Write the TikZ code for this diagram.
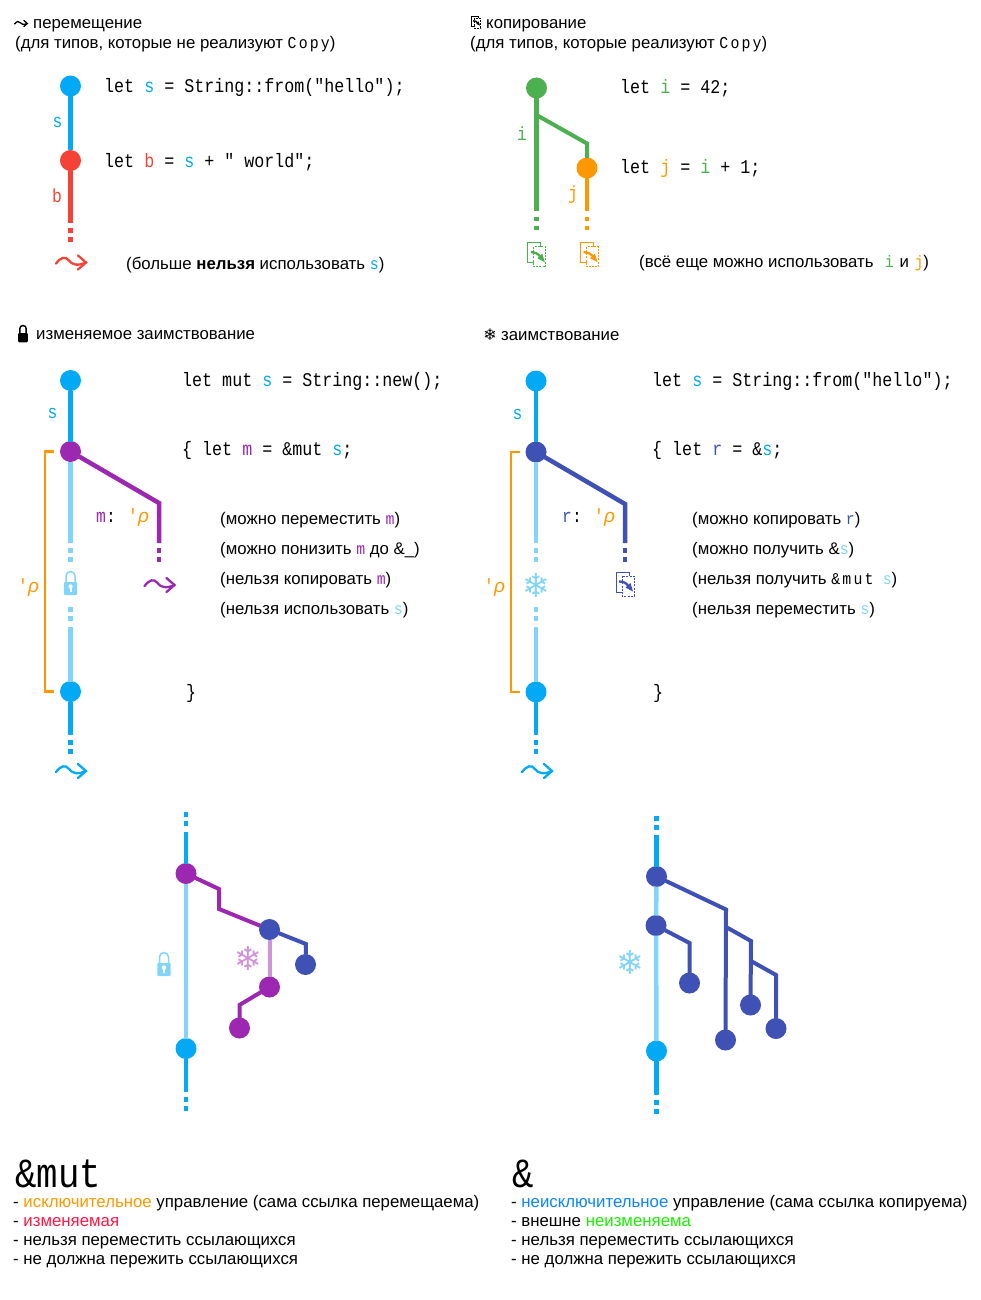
\documentclass[tikz,border=0pt]{standalone}
\usepackage{fontspec}
\usepackage{xcolor}
\usetikzlibrary{positioning,calc}
\setmainfont{Liberation Sans}
\newfontfamily\codefont[FakeStretch=0.86]{Liberation Mono}
\newfontfamily\smallcodefont[FakeStretch=0.9,LetterSpace=13]{Liberation Mono}
\newfontfamily\symbfont{DejaVu Sans}
\definecolor{RustBlue}{HTML}{03A9F4}
\definecolor{RustPale}{HTML}{81D4FA}
\definecolor{RustPurple}{HTML}{9C27B0}
\definecolor{RustIndigo}{HTML}{3F51B5}
\definecolor{RustGreen}{HTML}{4CAF50}
\definecolor{RustOrange}{HTML}{FF9800}
\definecolor{RustRed}{HTML}{F44336}
\definecolor{RustThistle}{HTML}{CE93D8}
\newcommand{\cc}[2]{\textcolor{#1}{#2}}
\newcommand{\smallcode}[1]{{\smallcodefont\fontsize{16.5}{16.5}\selectfont #1}}
\tikzset{ownerdot/.style={circle, fill=#1, minimum size=21pt, inner sep=0pt, outer sep=-.5pt}, ownerline/.style={draw=#1, line width=4.5pt}, branchline/.style={draw=#1, line width=4pt, line join=miter}, ownertail/.style={draw=#1, line width=4.5pt, dash pattern=on 4.5pt off 4.5pt}, codeline/.style={anchor=base west, inner sep=0pt, font=\codefont\fontsize{19.4}{19.4}\selectfont}, sanstext/.style={anchor=base west, inner sep=0pt, font=\fontsize{16.8}{16.8}\selectfont}, vartext/.style={anchor=base, inner sep=0pt, text=#1, font=\codefont\fontsize{19}{19}\selectfont}, lifetext/.style={anchor=base west, inner sep=0pt, text=RustOrange, font=\fontsize{19}{19}\selectfont}, bigcode/.style={anchor=base west, inner sep=0pt, font=\codefont\fontsize{41.5}{41.5}\selectfont}, movemark/.style={draw=#1, line width=2.3pt}, copymark/.style={line width=.9pt}, flakemark/.style={inner sep=0pt, text=#1, font=\symbfont\fontsize{33}{33}\selectfont}, pics/waveicon/.style={code={
  \draw[pic actions, line cap=round] (-15,1) .. controls (-10,-5) and (-6,-7) .. (-2,-2) .. controls (1,2) and (6,4) .. (15,0);
  \draw[pic actions, line cap=round] (7,-7) -- (15,0) -- (7,7);}}, pics/copyicon/.style={code={
  \draw[pic actions, #1] (4,-8) -- (4,-12) -- (-9,-12) -- (-9,8) -- (-3,8);
  \draw[pic actions, #1, dash pattern=on 2pt off 1.2pt] (-3,-8) rectangle (9,12);
  \draw[pic actions, #1, line width=1.6\pgflinewidth] (-6,-2.5) .. controls (-1,-2.5) and (1,-1) .. (4,2.5);
  \fill[#1] (8,7.5) -- (0.5,3.5) -- (5.5,-1) -- cycle;}}, pics/lockbody/.style={code={
  \fill[#1, rounded corners=1pt] (-6.7,-2) rectangle (6.7,11);
  \draw[#1, line width=1.5pt] (-4.5,-2) -- (-4.5,-8) arc[start angle=180, end angle=360, radius=4.5] -- (4.5,-2);}}, pics/lockicon/.style={code={
  \pic {lockbody=#1};
  \fill[white] (0,2.5) circle[radius=2.2];
  \fill[white] (-1,2.5) rectangle (1,7.5);}}}
\begin{document}
\begin{tikzpicture}[x=1pt,y=-1pt]
\useasboundingbox (0,0) rectangle (980,1300);
% move
\pic[movemark=black, line width=1.3pt, scale=.42] (movearrow) at (21,23.5) {waveicon};
\node[sanstext] (movehead) at (33,29) {перемещение};
\node[sanstext] (movesub) at (15,49) {(для типов, которые не реализуют \smallcode{Copy})};
\node[ownerdot=RustBlue] (ms) at (70.5,86) {};
\node[ownerdot=RustRed] (mb) at (70.5,160.5) {};
\coordinate (mbend) at (70.5,223);
\coordinate (mbtail) at (70.5,242);
\draw[ownerline=RustBlue] (ms) -- (mb);
\draw[ownerline=RustRed] (mb) -- (mbend);
\draw[ownertail=RustRed] (70.5,228) -- (mbtail);
\node[vartext=RustBlue] (mslabel) at (57.5,128) {s};
\node[vartext=RustRed] (mblabel) at (57,203) {b};
\pic[movemark=RustRed] (mbarrow) at (71,262.5) {waveicon};
\node[codeline] (mscode) at (104,92.5) {let \cc{RustBlue}{s} = String::from("hello");};
\node[codeline] (mbcode) at (104,167.5) {let \cc{RustRed}{b} = \cc{RustBlue}{s} + " world";};
\node[sanstext] (mnote) at (126,269.5) {(больше \textbf{нельзя} использовать \cc{RustBlue}{\smallcode{s}})};
% copy
\pic[line width=.55pt, scale=.5] (copyhead) at (476,22) {copyicon=black};
\node[sanstext] (copytitle) at (486,29) {копирование};
\node[sanstext] (copysub) at (470,49) {(для типов, которые реализуют \smallcode{Copy})};
\node[ownerdot=RustGreen] (ci) at (536.5,88) {};
\node[ownerdot=RustOrange] (cj) at (587,168) {};
\coordinate (cifork) at (536.5,115);
\coordinate (cibend) at (587,143.5);
\coordinate (ciend) at (536.5,211);
\coordinate (citail) at (536.5,231);
\coordinate (cjend) at (587,211);
\coordinate (cjtail) at (587,231);
\draw[ownerline=RustGreen] (ci) -- (ciend);
\draw[branchline=RustGreen] (cifork) -- (cibend) -- (cj);
\draw[ownerline=RustOrange] (cj) -- (cjend);
\draw[ownertail=RustGreen] (536.5,216.5) -- (citail);
\draw[ownertail=RustOrange] (587,216.5) -- (cjtail);
\node[vartext=RustGreen] (cilabel) at (522,141) {i};
\node[vartext=RustOrange] (cjlabel) at (573,200) {j};
\pic[copymark] (cicopy) at (536.8,254.7) {copyicon=RustGreen};
\pic[copymark] (cjcopy) at (589.5,254.7) {copyicon=RustOrange};
\node[codeline] (cicode) at (620,94) {let \cc{RustGreen}{i} = 42;};
\node[codeline] (cjcode) at (620,173.5) {let \cc{RustOrange}{j} = \cc{RustGreen}{i} + 1;};
\node[sanstext] (cnote) at (639,267.5) {(всё еще можно использовать \ \kern2pt\cc{RustGreen}{\smallcode{i}}\kern1pt\ и \kern1pt\cc{RustOrange}{\smallcode{j}})};
% mutable borrow
\pic[scale=.72] (muthead) at (23,334.5) {lockbody=black};
\node[sanstext] (muttitle) at (36,339.5) {изменяемое заимствование};
\node[ownerdot=RustBlue] (bs) at (70.5,380.5) {};
\node[ownerdot=RustPurple] (bm) at (70.5,451.5) {};
\node[ownerdot=RustBlue] (be) at (70.5,691.5) {};
\coordinate (bpaleend) at (70.5,543);
\coordinate (bpaletail) at (70.5,562);
\coordinate (bpalehead) at (70.5,607);
\coordinate (bpalerest) at (70.5,627);
\coordinate (bmbend) at (159,503);
\coordinate (bmend) at (159,543);
\coordinate (bmtail) at (159,562);
\coordinate (beend) at (70.5,735);
\coordinate (betail) at (70.5,754);
\coordinate (blifetop) at (54,451.5);
\coordinate (blifebot) at (54,691.5);
\draw[ownerline=RustBlue] (bs) -- (bm);
\draw[ownerline=RustPale] (bm) -- (bpaleend);
\draw[ownertail=RustPale] (70.5,548) -- (bpaletail);
\draw[ownertail=RustPale] (bpalehead) -- (70.5,622);
\draw[ownerline=RustPale] (bpalerest) -- (be);
\draw[ownerline=RustBlue] (be) -- (beend);
\draw[ownertail=RustBlue] (70.5,740) -- (betail);
\draw[ownerline=RustPurple] (bm) -- (bmbend) -- (bmend);
\draw[ownertail=RustPurple] (159,548) -- (bmtail);
\draw[draw=RustOrange, line width=2.4pt] (blifetop) -| (45,571) |- (blifebot);
\pic (block) at (70.5,584) {lockicon=RustPale};
\node[vartext=RustBlue] (bslabel) at (52.5,418) {s};
\node[lifetext] (blife) at (18,592) {{\codefont '}\textit{ρ}};
\node[anchor=base west, inner sep=0pt] (bmlabel) at (96,522) {\codefont\fontsize{19}{19}\selectfont\cc{RustPurple}{m}:};
\node[lifetext] (bmlife) at (128,522) {{\codefont '}\textit{ρ}};
\pic[movemark=RustPurple] (bmarrow) at (159.5,585) {waveicon};
\pic[movemark=RustBlue] (bearrow) at (71,771) {waveicon};
\node[codeline] (bscode) at (182,386.5) {let mut \cc{RustBlue}{s} = String::new();};
\node[codeline] (bmcode) at (182,455.5) {\{ let \cc{RustPurple}{m} = \&mut \cc{RustBlue}{s};};
\node[codeline] (becode) at (176,698.5) {\ \}};
\node[sanstext] (bnote1) at (220,524) {(можно переместить \cc{RustPurple}{\smallcode{m}})};
\node[sanstext, below=30pt of bnote1.base west, anchor=base west] (bnote2) {(можно понизить \cc{RustPurple}{\smallcode{m}} до \&\_)};
\node[sanstext, below=30pt of bnote2.base west, anchor=base west] (bnote3) {(нельзя копировать \cc{RustPurple}{\smallcode{m}})};
\node[sanstext, below=30pt of bnote3.base west, anchor=base west] (bnote4) {(нельзя использовать \cc{RustPale}{\smallcode{s}})};
% shared borrow
\node[flakemark=black, font=\symbfont\fontsize{16}{16}\selectfont] (shflake) at (490,335) {❄};
\node[sanstext] (shhead) at (501,340.5) {заимствование};
\node[ownerdot=RustBlue] (ss) at (536,381) {};
\node[ownerdot=RustIndigo] (sr) at (536,452) {};
\node[ownerdot=RustBlue] (se) at (536,692) {};
\coordinate (spaleend) at (536,543);
\coordinate (spaletail) at (536,562);
\coordinate (spalehead) at (536,607);
\coordinate (spalerest) at (536,627);
\coordinate (srbend) at (625,504);
\coordinate (srend) at (625,543);
\coordinate (srtail) at (625,562);
\coordinate (seend) at (536,735);
\coordinate (setail) at (536,754);
\coordinate (slifetop) at (520,452);
\coordinate (slifebot) at (520,692);
\draw[ownerline=RustBlue] (ss) -- (sr);
\draw[ownerline=RustPale] (sr) -- (spaleend);
\draw[ownertail=RustPale] (536,548) -- (spaletail);
\draw[ownertail=RustPale] (spalehead) -- (536,622);
\draw[ownerline=RustPale] (spalerest) -- (se);
\draw[ownerline=RustBlue] (se) -- (seend);
\draw[ownertail=RustBlue] (536,740) -- (setail);
\draw[ownerline=RustIndigo] (sr) -- (srbend) -- (srend);
\draw[ownertail=RustIndigo] (625,548) -- (srtail);
\draw[draw=RustOrange, line width=2.4pt] (slifetop) -| (511,572) |- (slifebot);
\node[flakemark=RustPale] (sflake) at (536,585) {❄};
\pic[copymark] (srcopy) at (625,584) {copyicon=RustIndigo};
\node[vartext=RustBlue] (sslabel) at (517.5,419) {s};
\node[lifetext] (slife) at (484,592) {{\codefont '}\textit{ρ}};
\node[anchor=base west, inner sep=0pt] (srlabel) at (562,522) {\codefont\fontsize{19}{19}\selectfont\cc{RustIndigo}{r}:};
\node[lifetext] (srlife) at (594,522) {{\codefont '}\textit{ρ}};
\pic[movemark=RustBlue] (searrow) at (537,771) {waveicon};
\node[codeline] (sscode) at (652,386.5) {let \cc{RustBlue}{s} = String::from("hello");};
\node[codeline] (srcode) at (652,455.5) {\{ let \cc{RustIndigo}{r} = \&\cc{RustBlue}{s};};
\node[codeline] (secode) at (643,698.5) {\ \}};
\node[sanstext] (snote1) at (692,524) {(можно копировать \cc{RustIndigo}{\smallcode{r}})};
\node[sanstext, below=30pt of snote1.base west, anchor=base west] (snote2) {(можно получить \&\cc{RustPale}{\smallcode{s}})};
\node[sanstext, below=30pt of snote2.base west, anchor=base west] (snote3) {(нельзя получить \smallcode{\&mut} \ \cc{RustPale}{\smallcode{s}})};
\node[sanstext, below=30pt of snote3.base west, anchor=base west] (snote4) {(нельзя переместить \cc{RustPale}{\smallcode{s}})};
% reborrow tree, left
\node[ownerdot=RustPurple] (t1) at (186,873.5) {};
\node[ownerdot=RustBlue] (t2) at (186,1048.5) {};
\node[ownerdot=RustIndigo] (t3) at (269.5,929.5) {};
\node[ownerdot=RustIndigo] (t4) at (305.5,964.5) {};
\node[ownerdot=RustPurple] (t5) at (269.5,987) {};
\node[ownerdot=RustPurple] (t6) at (239.5,1028) {};
\coordinate (ttop) at (186,812);
\coordinate (tstart) at (186,832);
\coordinate (tend) at (186,1092);
\coordinate (ttail) at (186,1111);
\draw[ownertail=RustBlue] (ttop) -- (186,827);
\draw[ownerline=RustBlue] (tstart) -- (t1);
\draw[ownerline=RustPale] (t1) -- (t2);
\draw[ownerline=RustBlue] (t2) -- (tend);
\draw[ownertail=RustBlue] (186,1097) -- (ttail);
\draw[branchline=RustPurple] (t1) -- (219,889) -- (219,909) -- (t3);
\draw[branchline=RustIndigo] (t3) -- (306,944) -- (t4);
\draw[branchline=RustThistle] (t3) -- (t5);
\draw[branchline=RustPurple] (t5) -- (239.5,1005) -- (t6);
\pic (tlock) at (164,965) {lockicon=RustPale};
\node[flakemark=RustThistle] (tflake) at (248,958) {❄};
% reborrow tree, right
\node[ownerdot=RustIndigo] (u1) at (656.5,876.5) {};
\node[ownerdot=RustIndigo] (u2) at (656,925.5) {};
\node[ownerdot=RustBlue] (u3) at (656.5,1051) {};
\node[ownerdot=RustIndigo] (u4) at (689.5,983) {};
\node[ownerdot=RustIndigo] (u5) at (725.5,1040) {};
\node[ownerdot=RustIndigo] (u6) at (750.5,1005) {};
\node[ownerdot=RustIndigo] (u7) at (776,1028.5) {};
\coordinate (utop) at (656.5,816);
\coordinate (ustart) at (656.5,835);
\coordinate (uend) at (656.5,1095);
\coordinate (utail) at (656.5,1114);
\coordinate (ufork1) at (726,927);
\coordinate (ufork2) at (751,961);
\draw[ownertail=RustBlue] (utop) -- (656.5,831);
\draw[ownerline=RustBlue] (ustart) -- (u1);
\draw[ownerline=RustPale] (u1) -- (u2);
\draw[ownerline=RustPale] (u2) -- (u3);
\draw[ownerline=RustBlue] (u3) -- (uend);
\draw[ownertail=RustBlue] (656.5,1100) -- (utail);
\draw[branchline=RustIndigo] (u1) -- (726,909.5) -- (u5);
\draw[branchline=RustIndigo] (u2) -- (689.5,943) -- (u4);
\draw[branchline=RustIndigo] (ufork1) -- (751,941) -- (u6);
\draw[branchline=RustIndigo] (ufork2) -- (776,975) -- (u7);
\node[flakemark=RustPale] (uflake) at (630,962) {❄};
% summary
\node[bigcode] (mutbig) at (15,1187) {\&mut};
\node[sanstext] (mutl1) at (13,1207) {- \cc{RustOrange}{исключительное} управление (сама ссылка перемещаема)};
\node[sanstext] (mutl2) at (13,1226) {- \textcolor[HTML]{FF1744}{изменяемая}};
\node[sanstext] (mutl3) at (13,1245) {- нельзя переместить ссылающихся};
\node[sanstext] (mutl4) at (13,1264) {- не должна пережить ссылающихся};
\node[bigcode] (refbig) at (512,1187) {\&};
\node[sanstext] (refl1) at (511,1207) {- \textcolor[HTML]{0A84FF}{неисключительное} управление (сама ссылка копируема)};
\node[sanstext] (refl2) at (511,1226) {- внешне \textcolor[HTML]{19F000}{неизменяема}};
\node[sanstext] (refl3) at (511,1245) {- нельзя переместить ссылающихся};
\node[sanstext] (refl4) at (511,1264) {- не должна пережить ссылающихся};
\end{tikzpicture}
\end{document}
